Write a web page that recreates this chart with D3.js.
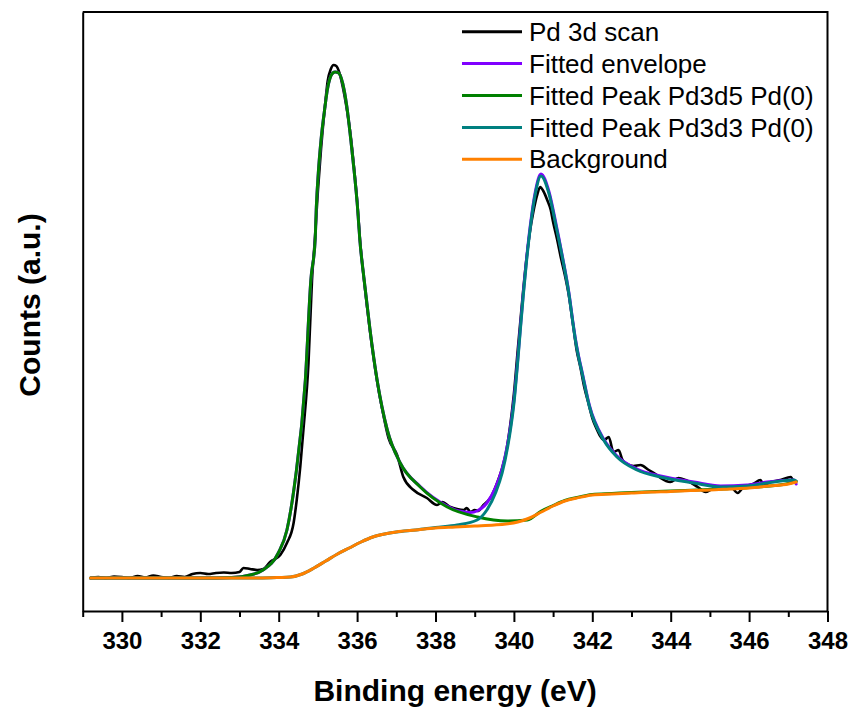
<!DOCTYPE html>
<html>
<head>
<meta charset="utf-8">
<script src="https://cdn.jsdelivr.net/npm/d3@7"></script>
<style>
  body { margin: 0; background: #fff; }
  text { font-family: Arial, "Liberation Sans", sans-serif; }
</style>
</head>
<body>
<script>
// binding energy (eV) / counts (a.u.)

// Pd 3d scan
var scanEV = [329.2, 329.4, 329.6, 329.8, 330.0, 330.2, 330.4, 330.6, 330.8, 331.0, 331.2, 331.4, 331.6, 331.8,
  332.0, 332.2, 332.4, 332.6, 332.8, 333.0, 333.1, 333.27, 333.45, 333.61, 333.78, 334.04, 334.21, 334.38, 334.46,
  334.55, 334.63, 334.76, 334.85, 334.93, 335.0, 335.08, 335.18, 335.25, 335.33, 335.40, 335.47, 335.55, 335.63,
  335.72, 335.84, 335.93, 336.01, 336.07, 336.18, 336.33, 336.51, 336.65, 336.8, 337.02, 337.18, 337.44, 337.78,
  338.04, 338.17, 338.38, 338.55, 338.72, 338.80, 338.89, 339.0, 339.1, 339.2, 339.31, 339.4, 339.5, 339.6, 339.7,
  339.8, 339.9, 340.0, 340.1, 340.2, 340.3, 340.4, 340.5, 340.6, 340.67, 340.75, 340.85, 340.94, 341.0, 341.1,
  341.2, 341.3, 341.4, 341.5, 341.6, 341.7, 341.8, 341.9, 342.0, 342.1, 342.2, 342.3, 342.42, 342.54, 342.67,
  342.77, 342.89, 343.05, 343.23, 343.44, 343.61, 343.74, 343.99, 344.2, 344.38, 344.69, 344.89, 345.19, 345.53,
  345.71, 345.86, 346.1, 346.29, 346.37, 346.55, 346.8, 347.06, 347.14];
var scanCounts = [330, 340, 330, 345, 340, 330, 350, 335, 355, 340, 330, 350, 340, 370,
  380, 370, 380, 385, 380, 390, 430, 420, 410, 420, 490, 560, 680, 880, 1110,
  1440, 1810, 2480, 3310, 3760, 4200, 4620, 5050, 5300, 5420, 5460, 5450, 5380, 5250,
  5060, 4740, 4400, 4060, 3730, 3300, 2800, 2300, 2000, 1730, 1560, 1340, 1210, 1130,
  1060, 1090, 1040, 1020, 1010, 1030, 990, 1010, 1000, 1050, 1090, 1130, 1210, 1310, 1430,
  1590, 1840, 2170, 2620, 3050, 3450, 3770, 4000, 4170, 4240, 4200, 4110, 4010, 3890, 3720,
  3530, 3360, 3160, 2890, 2610, 2430, 2230, 2080, 1930, 1830, 1750, 1710, 1740, 1590, 1610,
  1510, 1470, 1450, 1460, 1410, 1370, 1330, 1290, 1330, 1310, 1240, 1190, 1240, 1240,
  1180, 1240, 1270, 1310, 1260, 1290, 1310, 1340, 1290];

// Fitted envelope
var envEV = [329.2, 330, 331, 332, 332.8, 333.27, 333.6, 333.99, 334.21, 334.42, 334.68, 334.82, 334.93, 334.96,
  335.01, 335.08, 335.18, 335.24, 335.38, 335.44, 335.53, 335.67, 335.74, 335.84, 335.93, 336.01, 336.07, 336.18,
  336.33, 336.51, 336.77, 337.10, 337.61, 338.30, 338.6, 338.89, 339.06, 339.31, 339.53, 339.70, 339.84, 339.93,
  340.01, 340.09, 340.16, 340.24, 340.32, 340.42, 340.55, 340.69, 340.89, 341.08, 341.25, 341.40, 341.52, 341.57,
  341.65, 341.74, 341.93, 342.29, 342.63, 343.14, 343.74, 344.59, 345.27, 345.95, 346.46, 347.14, 347.2];
var envCounts = [330, 330, 330, 330, 335, 360, 410, 580, 810, 1310, 2310, 3310, 3710, 4040,
  4380, 4710, 5040, 5210, 5380, 5390, 5380, 5210, 5040, 4710, 4380, 4040, 3710, 3310,
  2810, 2310, 1810, 1480, 1245, 1050, 1000, 985, 1000, 1080, 1235, 1420, 1670, 1890,
  2140, 2480, 2810, 3180, 3510, 3860, 4200, 4370, 4200, 3860, 3520, 3190, 2850, 2720,
  2550, 2390, 2050, 1720, 1550, 1420, 1350, 1290, 1250, 1260, 1290, 1310, 1270];

// Fitted Peak Pd3d5 Pd(0)
var pd5EV = [329.2, 330, 331, 332, 332.8, 333.27, 333.6, 333.99, 334.21, 334.42, 334.68, 334.82, 334.93, 334.96,
  335.01, 335.08, 335.18, 335.24, 335.38, 335.44, 335.53, 335.67, 335.74, 335.84, 335.93, 336.01, 336.07, 336.18,
  336.33, 336.51, 336.77, 337.10, 337.61, 338.30, 339.07, 339.83, 340.34, 340.7, 341, 341.3, 341.6, 342, 342.5,
  343, 344, 345, 346, 347, 347.2];
var pd5Counts = [330, 330, 330, 330, 335, 360, 410, 580, 810, 1310, 2310, 3310, 3710, 4040,
  4380, 4710, 5040, 5210, 5380, 5390, 5380, 5210, 5040, 4710, 4380, 4040, 3710, 3310,
  2810, 2310, 1810, 1480, 1240, 1040, 940, 900, 910, 1000, 1055, 1105, 1135, 1165, 1175,
  1185, 1200, 1215, 1235, 1275, 1295];

// Fitted Peak Pd3d3 Pd(0)
var pd3EV = [329.2, 330, 331, 332, 333, 333.5, 334, 334.3, 334.6, 334.9, 335.2, 335.5, 335.8, 336.1, 336.4,
  336.7, 337, 337.5, 338, 338.55, 339.06, 339.31, 339.53, 339.70, 339.84, 339.93, 340.01, 340.09, 340.16, 340.24,
  340.32, 340.42, 340.55, 340.69, 340.89, 341.08, 341.25, 341.40, 341.52, 341.57, 341.65, 341.74, 341.93, 342.29,
  342.63, 343.14, 343.74, 344.59, 345.27, 345.95, 346.46, 347.14, 347.2];
var pd3Counts = [330, 330, 330, 330, 330, 330, 335, 340, 370, 430, 500, 570, 630, 690, 740,
  770, 790, 810, 835, 860, 910, 1010, 1180, 1380, 1640, 1860, 2110, 2460, 2790, 3160,
  3490, 3840, 4180, 4350, 4180, 3840, 3510, 3180, 2840, 2710, 2540, 2380, 2040, 1710,
  1540, 1410, 1340, 1280, 1240, 1250, 1280, 1310, 1300];

// Background
var bgEV = [329.2, 330, 331, 332, 333, 333.5, 334, 334.3, 334.6, 334.9, 335.2, 335.5, 335.8, 336.1, 336.4,
  336.7, 337, 337.5, 338, 338.5, 339, 339.5, 339.8, 340.1, 340.4, 340.7, 341, 341.3, 341.6, 342, 342.5,
  343, 343.5, 344, 344.5, 345, 345.5, 346, 346.5, 347, 347.2];
var bgCounts = [330, 330, 330, 330, 330, 330, 335, 340, 370, 430, 500, 570, 630, 690, 740,
  770, 790, 810, 830, 840, 850, 860, 870, 890, 930, 990, 1050, 1100, 1130, 1160, 1170,
  1180, 1190, 1195, 1205, 1210, 1220, 1230, 1250, 1270, 1290];

var seriesNames = ["Pd 3d scan", "Fitted envelope", "Fitted Peak Pd3d5 Pd(0)", "Fitted Peak Pd3d3 Pd(0)", "Background"];
var seriesColors = ["#000000", "#8000ff", "#008000", "#008080", "#ff8000"];
var xTicks = [330, 332, 334, 336, 338, 340, 342, 344, 346, 348];

window.onload = function() {
    var w = 854, h = 711;
    var left = 82.7, right = 827.5, top = 12, bottom = 611;

    var svg = d3.select("body").append("svg")
        .attr("width", w)
        .attr("height", h)
        .style("background-color", "#fff");

    var x = d3.scaleLinear().domain([329, 348]).range([left, right]);
    var y = d3.scaleLinear().domain([0, 5990]).range([bottom, top]);

    svg.append("clipPath").attr("id", "plot-clip")
        .append("rect")
        .attr("x", left).attr("y", top)
        .attr("width", right - left).attr("height", bottom - top);

    var series = [
        { ev: scanEV, counts: scanCounts },
        { ev: envEV, counts: envCounts },
        { ev: pd5EV, counts: pd5Counts },
        { ev: pd3EV, counts: pd3Counts },
        { ev: bgEV, counts: bgCounts }
    ];

    var line = d3.line()
        .x(function(d) { return x(d[0]); })
        .y(function(d) { return y(d[1]); })
        .curve(d3.curveMonotoneX);

    svg.append("g").attr("clip-path", "url(#plot-clip)")
        .selectAll("path")
        .data(series)
        .enter()
        .append("path")
        .attr("d", function(s) { return line(d3.zip(s.ev, s.counts)); })
        .attr("fill", "none")
        .attr("stroke", function(s, i) { return seriesColors[i]; })
        .attr("stroke-width", function(s, i) { return i === 0 ? 2.6 : 3; })
        .attr("stroke-linejoin", "round")
        .attr("stroke-linecap", "round");

    // frame: top and right edges without ticks
    svg.append("path")
        .attr("d", "M" + left + "," + top + "H" + right + "V" + bottom)
        .attr("fill", "none")
        .attr("stroke", "#000")
        .attr("stroke-width", 2);

    var yAxis = svg.append("g")
        .attr("transform", "translate(" + left + ",0)")
        .call(d3.axisLeft(y).tickValues([]).tickSizeOuter(0));
    yAxis.select(".domain").attr("stroke-width", 2);

    // minor ticks every 1 eV
    svg.append("g")
        .attr("transform", "translate(0," + bottom + ")")
        .call(d3.axisBottom(x).tickValues(d3.range(329, 348, 2)).tickSize(6).tickFormat(""))
        .call(function(g) { g.select(".domain").remove(); })
        .selectAll("line").attr("stroke-width", 2);

    var xAxis = svg.append("g")
        .attr("transform", "translate(0," + bottom + ")")
        .call(d3.axisBottom(x).tickValues(xTicks).tickSize(11).tickSizeOuter(0).tickPadding(10));
    xAxis.select(".domain").attr("stroke-width", 2);
    xAxis.selectAll("line").attr("stroke-width", 2);
    xAxis.selectAll("text")
        .attr("fill", "#000")
        .style("font-size", "24px")
        .style("font-weight", "bold");

    svg.append("text")
        .attr("x", (left + right) / 2)
        .attr("y", 701)
        .attr("text-anchor", "middle")
        .style("font-size", "30px")
        .style("font-weight", "bold")
        .text("Binding energy (eV)");

    svg.append("text")
        .attr("transform", "translate(40," + 305 + ") rotate(-90)")
        .attr("text-anchor", "middle")
        .style("font-size", "30px")
        .style("font-weight", "bold")
        .text("Counts (a.u.)");

    // legend
    var legend = svg.append("g")
        .selectAll("g")
        .data(seriesNames)
        .enter()
        .append("g")
        .attr("transform", function(d, i) { return "translate(0," + (31.7 + i * 31.9) + ")"; });
    legend.append("line")
        .attr("x1", 462).attr("x2", 522)
        .attr("stroke", function(d, i) { return seriesColors[i]; })
        .attr("stroke-width", 3);
    legend.append("text")
        .attr("x", 529)
        .attr("dy", "0.35em")
        .style("font-size", "26px")
        .text(function(d) { return d; });
};
</script>
</body>
</html>
